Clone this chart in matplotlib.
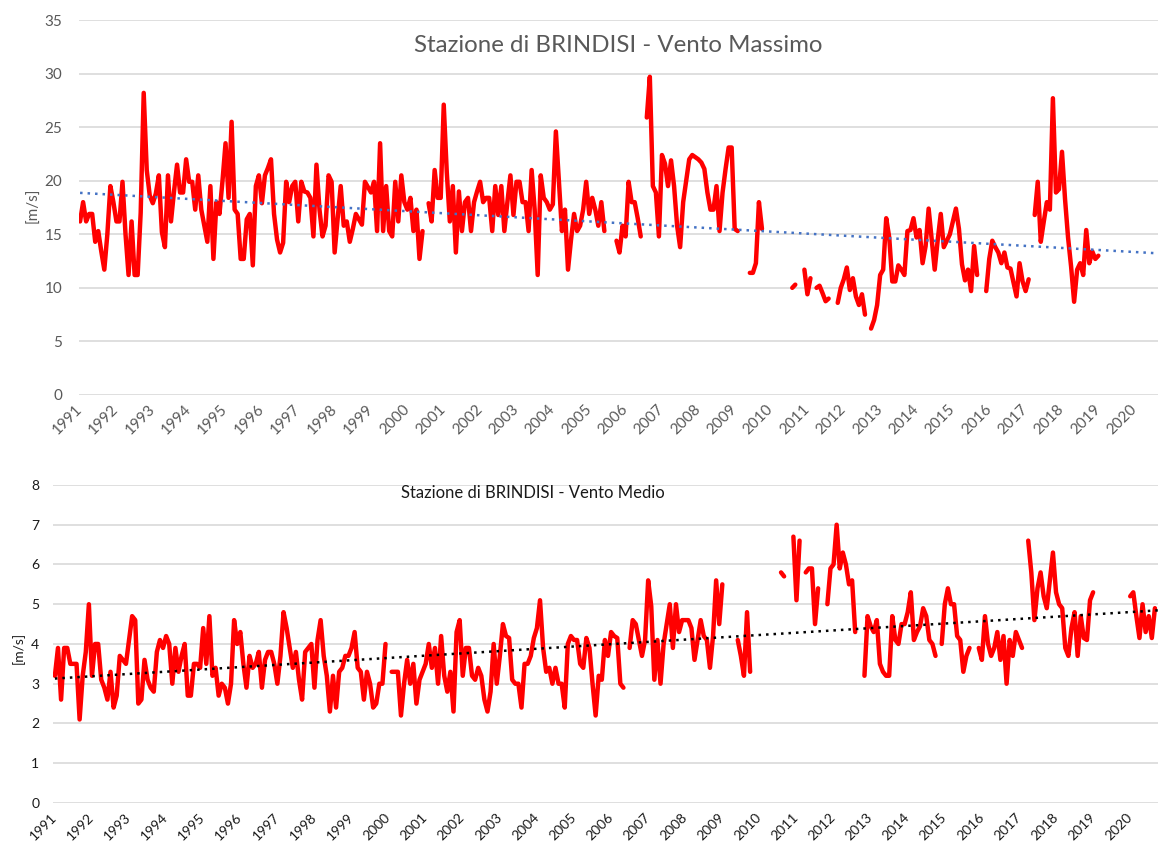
import numpy as np
import matplotlib
matplotlib.use('Agg')
import matplotlib.pyplot as plt

plt.rcParams['font.family'] = ['Lato', 'DejaVu Sans']

N = None
anni = list(range(1991, 2021))

# valori mensili, gen 1991 - dic 2020 (None = dato mancante)
vento_massimo = [
    16.2, 18.0, 16.2, 16.9, 16.9, 14.3, 15.3, 13.4, 11.7, 15.0, 19.5, 18.0,   # 1991
    16.2, 16.2, 19.9, 15.0, 11.2, 16.2, 11.2, 11.2, 17.0, 28.2, 21.0, 18.6,   # 1992
    17.9, 18.8, 20.5, 15.2, 13.8, 20.5, 16.2, 19.0, 21.5, 18.9, 18.9, 22.0,   # 1993
    19.9, 19.9, 17.3, 20.5, 17.3, 15.8, 14.3, 19.5, 12.7, 18.0, 16.9, 20.0,   # 1994
    23.5, 18.4, 25.5, 17.3, 16.9, 12.7, 12.7, 16.4, 16.9, 12.1, 19.5, 20.5,   # 1995
    17.9, 20.5, 21.2, 22.0, 16.9, 14.5, 13.3, 14.2, 19.9, 18.0, 19.5, 19.9,   # 1996
    16.2, 19.9, 19.0, 18.9, 18.4, 14.8, 21.5, 17.3, 14.8, 15.8, 20.5, 19.9,   # 1997
    13.3, 16.5, 19.5, 15.8, 16.2, 14.3, 15.5, 16.9, 16.4, 15.9, 19.9, 19.4,   # 1998
    18.9, 19.9, 15.3, 23.5, 15.3, 19.5, 15.3, 14.8, 19.9, 16.2, 20.5, 18.0,   # 1999
    17.3, 18.4, 15.3, 17.3, 12.7, 15.3, N, 17.9, 16.2, 21.0, 18.4, 18.4,      # 2000
    27.1, 20.8, 16.2, 19.5, 13.3, 19.0, 15.3, 18.0, 18.4, 15.3, 18.0, 19.0,   # 2001
    19.9, 18.0, 18.4, 18.4, 15.3, 19.5, 16.8, 19.5, 15.3, 18.0, 20.5, 16.8,   # 2002
    19.9, 19.9, 18.0, 18.0, 15.3, 21.0, 17.3, 11.2, 20.5, 18.4, 18.0, 17.3,   # 2003
    17.8, 24.6, 20.0, 15.3, 17.3, 11.7, 14.5, 16.9, 15.3, 15.8, 17.3, 19.9,   # 2004
    16.9, 18.4, 17.3, 15.8, 18.0, 15.3, N, N, N, 14.4, 13.3, 15.8,            # 2005
    14.8, 19.9, 18.0, 18.0, 16.5, 14.8, N, 25.9, 29.7, 19.5, 18.9, 14.8,      # 2006
    22.4, 21.6, 19.5, 21.9, 19.5, 15.8, 13.8, 18.0, 20.0, 22.0, 22.4, 22.2,   # 2007
    22.0, 21.7, 21.1, 18.9, 17.3, 17.3, 19.5, 15.3, 18.9, 21.1, 23.1, 23.1,   # 2008
    15.5, 15.3, N, N, N, 11.4, 11.4, 12.3, 18.0, 15.5, N, N,                  # 2009
    N, N, N, N, N, N, N, 10.0, 10.3, N, N, 11.7,                              # 2010
    9.4, 10.9, N, 10.0, 10.2, 9.5, 8.75, 9.0, N, N, 8.6, 10.0,                # 2011
    10.8, 11.9, 9.8, 10.9, 9.2, 8.4, 9.4, 7.5, N, 6.2, 7.0, 8.4,              # 2012
    11.2, 11.7, 16.5, 14.7, 10.6, 10.6, 12.1, 11.7, 11.2, 15.3, 15.4, 16.5,   # 2013
    14.7, 15.4, 12.3, 13.9, 17.4, 14.5, 11.7, 14.5, 16.9, 13.8, 14.4, 15.0,   # 2014
    16.2, 17.4, 15.5, 12.2, 10.7, 11.7, 9.7, 13.9, 11.2, N, N, 9.7,           # 2015
    12.7, 14.4, 13.8, 13.3, 12.3, 13.3, 11.9, 11.8, 10.5, 9.2, 12.3, 10.6,    # 2016
    9.7, 10.8, N, 16.8, 19.9, 14.3, 16.2, 18.0, 17.3, 27.7, 18.9, 19.2,       # 2017
    22.7, 18.3, 14.7, 12.0, 8.7, 11.7, 12.3, 11.2, 15.4, 12.3, 13.4, 12.7,    # 2018
    13.0, N, N, N, N, N, N, N, N, N, N, N,                                    # 2019
    N, N, N, N, N, N, N, N, N, N, N, N,                                       # 2020
]

vento_medio = [
    3.2, 3.9, 2.6, 3.9, 3.9, 3.5, 3.5, 3.5, 2.1, 3.2, 3.8, 5.0,      # 1991
    3.2, 4.0, 4.0, 3.1, 2.9, 2.6, 3.3, 2.4, 2.7, 3.7, 3.6, 3.5,      # 1992
    4.1, 4.7, 4.6, 2.5, 2.6, 3.6, 3.1, 2.9, 2.8, 3.8, 4.1, 3.9,      # 1993
    4.2, 4.0, 3.0, 3.9, 3.3, 3.7, 4.0, 2.7, 2.7, 3.5, 3.5, 3.4,      # 1994
    4.4, 3.5, 4.7, 3.2, 3.4, 2.7, 3.0, 2.9, 2.5, 3.0, 4.6, 4.0,      # 1995
    4.3, 3.5, 2.9, 3.7, 3.4, 3.5, 3.8, 2.9, 3.6, 3.8, 3.8, 3.5,      # 1996
    3.0, 3.7, 4.8, 4.4, 3.9, 3.4, 3.8, 3.1, 2.6, 3.8, 3.9, 4.0,      # 1997
    2.9, 4.1, 4.6, 3.7, 3.2, 2.3, 3.2, 2.4, 3.3, 3.4, 3.7, 3.7,      # 1998
    3.9, 4.3, 3.4, 3.3, 2.6, 3.3, 3.0, 2.4, 2.5, 3.0, 3.0, 4.0,      # 1999
    N, 3.3, 3.3, 3.3, 2.2, 3.0, 3.6, 3.0, 3.5, 2.5, 3.1, 3.3,        # 2000
    3.5, 4.0, 3.4, 3.9, 3.0, 4.2, 3.2, 2.8, 3.3, 2.3, 4.3, 4.6,      # 2001
    3.2, 3.9, 3.9, 3.2, 3.1, 3.4, 3.2, 2.6, 2.3, 2.8, 4.0, 3.0,      # 2002
    3.7, 4.5, 4.2, 4.15, 3.1, 3.0, 3.0, 2.4, 3.5, 3.5, 3.7, 4.15,    # 2003
    4.4, 5.1, 3.9, 3.3, 3.4, 3.0, 3.4, 3.0, 3.0, 2.4, 4.0, 4.2,      # 2004
    4.1, 4.1, 3.5, 3.4, 4.15, 3.9, 3.0, 2.2, 3.2, 3.1, 4.1, 3.7,     # 2005
    4.3, 4.2, 4.15, 3.0, 2.9, N, 3.9, 4.6, 4.5, 4.1, 3.7, 4.1,       # 2006
    5.6, 4.95, 3.1, 4.1, 3.0, 4.0, 4.5, 5.0, 3.9, 5.0, 4.3, 4.6,     # 2007
    4.6, 4.6, 4.4, 3.6, 4.1, 4.6, 4.2, 4.1, 3.4, 4.2, 5.6, 4.5,      # 2008
    5.5, N, N, N, N, 4.1, 3.7, 3.2, 4.8, 3.3, N, N,                  # 2009
    N, N, N, N, N, N, N, 5.8, 5.7, N, N, 6.7,                        # 2010
    5.1, 6.6, N, 5.8, 5.9, 5.9, 4.5, 5.4, N, N, 5.0, 5.9,            # 2011
    6.0, 7.0, 5.9, 6.3, 6.0, 5.5, 5.6, 4.3, N, N, 3.2, 4.7,          # 2012
    4.45, 4.3, 4.6, 3.5, 3.3, 3.2, 3.2, 4.7, 4.1, 4.0, 4.5, 4.5,     # 2013
    4.8, 5.3, 4.1, 4.3, 4.45, 4.9, 4.7, 4.1, 4.0, 3.7, N, 4.0,       # 2014
    5.0, 5.4, 5.0, 5.0, 4.2, 4.1, 3.3, 3.7, 3.9, N, N, 3.9,          # 2015
    3.6, 4.7, 4.0, 3.7, 3.9, 4.3, 3.6, 4.2, 3.0, 4.1, 3.7, 4.3,      # 2016
    4.1, 3.9, N, 6.6, 5.8, 4.6, 5.4, 5.8, 5.2, 4.9, 5.6, 6.3,        # 2017
    5.3, 5.0, 4.9, 3.9, 3.7, 4.4, 4.8, 3.7, 4.7, 4.15, 4.1, 5.1,     # 2018
    5.3, N, N, N, N, N, N, N, N, N, N, N,                            # 2019
    5.2, 5.3, 4.7, 4.15, 5.0, 4.3, 4.7, 4.15, 4.9, N, N, N,          # 2020
]

tempo = 1991 + np.arange(len(vento_massimo)) / 12.0


def grafico(ax, valori, titolo, col_testo, col_trend, x_fine, ymax, ystep,
            tick_size, tick_pad, titolo_pos, titolo_size):
    y = np.array(valori, dtype=float)
    ax.plot(tempo, y, color='#ff0000', lw=3.2, solid_joinstyle='round',
            solid_capstyle='round', zorder=3)

    # linea di tendenza lineare (come in Excel)
    ok = ~np.isnan(y)
    a, b = np.polyfit(tempo[ok], y[ok], 1)
    xt = np.array([1991, x_fine])
    ax.plot(xt, a * xt + b, color=col_trend, lw=1.8, ls=(0, (1, 2)), zorder=4)

    ax.set_ylim(0, ymax)
    ax.set_yticks(np.arange(0, ymax + 0.1, ystep))
    ax.set_xticks(anni)
    ax.set_xticklabels([str(a) for a in anni], rotation=45, ha='right',
                       va='center', rotation_mode='anchor')
    ax.tick_params(axis='both', length=0, labelsize=tick_size, colors=col_testo)
    ax.tick_params(axis='y', pad=tick_pad)
    ax.tick_params(axis='x', pad=9)
    for s in ax.spines.values():
        s.set_visible(False)
    ax.yaxis.grid(True, color='#d9d9d9', lw=1.2)
    ax.set_axisbelow(True)
    ax.text(titolo_pos[0], titolo_pos[1], titolo, transform=ax.transAxes,
            ha='center', va='center', fontsize=titolo_size, color=col_testo)


fig = plt.figure(figsize=(11.58, 8.48), dpi=100)

ax1 = fig.add_axes([0.0682, 0.5342, 0.9318, 0.4422])
ax1.set_xlim(1990.97, 2020.64)
grafico(ax1, vento_massimo, 'Stazione di BRINDISI - Vento Massimo', '#595959',
        '#4472c4', 2020.64, 35, 5, 11, 12, (0.5, 0.933), 17.3)
fig.text(0.0285, 0.758, '[m/s]', rotation=90, ha='center', va='center',
         fontsize=11, color='#595959')

ax2 = fig.add_axes([0.0458, 0.0531, 0.9542, 0.375])
ax2.set_xlim(1990.95, 2020.75)
grafico(ax2, vento_medio, 'Stazione di BRINDISI - Vento Medio', '#1a1a1a',
        '#000000', 2020.75, 8, 1, 10, 10, (0.434, 0.975), 12)
fig.text(0.0155, 0.236, '[m/s]', rotation=90, ha='center', va='center',
         fontsize=10, color='#1a1a1a')

fig.savefig('out.png', dpi=100)
